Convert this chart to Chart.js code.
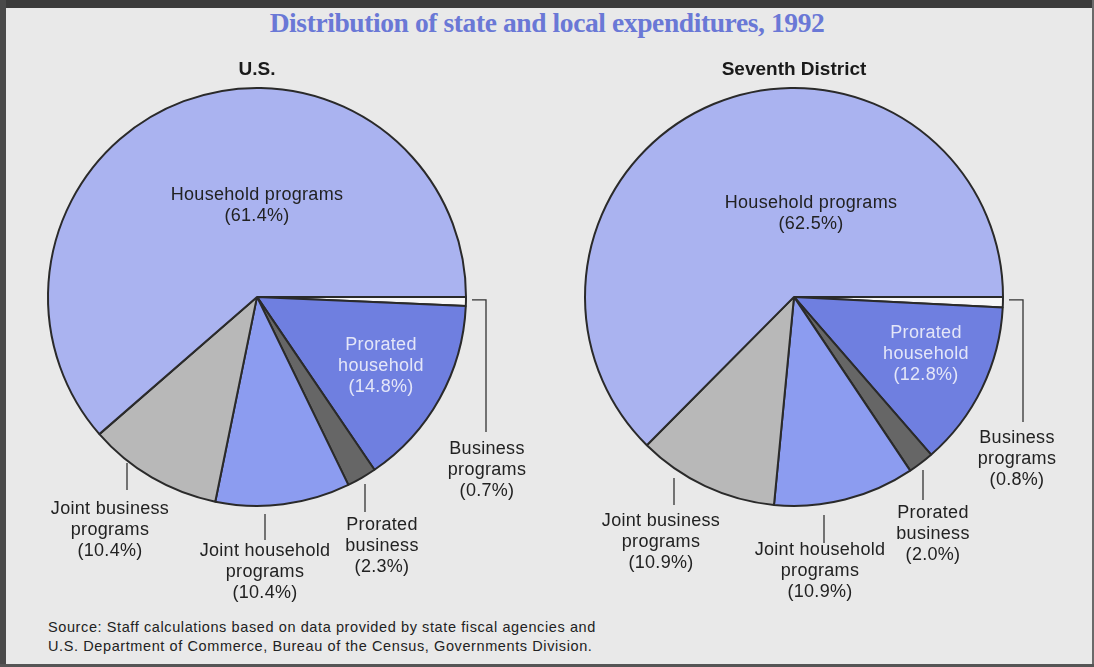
<!DOCTYPE html>
<html>
<head>
<meta charset="utf-8">
<script src="https://cdn.jsdelivr.net/npm/chart.js@4/dist/chart.umd.min.js"></script>
<style>
  html, body { margin: 0; padding: 0; }
  body { width: 1094px; height: 667px; position: relative; overflow: hidden; background: #e9e9e9; font-family: "Liberation Sans", Arial, sans-serif; }
  #topbar { position: absolute; left: 0; top: 0; width: 1094px; height: 8px; background: #3b3b3b; }
  #leftbar { position: absolute; left: 0; top: 0; width: 6px; height: 667px; background: #4a4a4a; }
  #rightbar { position: absolute; right: 0; top: 0; width: 2px; height: 667px; background: #6a6a6a; }
  #bottombar { position: absolute; left: 0; bottom: 0; width: 1094px; height: 3px; background: #555; }
  #title { position: absolute; left: 0; width: 1094px; top: 7px; text-align: center; font-family: "Liberation Serif", "DejaVu Serif", serif; font-weight: bold; font-size: 27.5px; color: #6a78d6; letter-spacing: -0.4px; }
  #source { position: absolute; left: 48px; top: 618px; font-size: 14.5px; line-height: 19px; color: #222; letter-spacing: 0.6px; }
  canvas { position: absolute; top: 0; }
  #c1 { left: 0; }
  #c2 { left: 547px; }
</style>
</head>
<body>
<div id="topbar"></div><div id="leftbar"></div><div id="rightbar"></div><div id="bottombar"></div>
<div id="title">Distribution of state and local expenditures, 1992</div>
<div id="source">Source: Staff calculations based on data provided by state fiscal agencies and<br>U.S. Department of Commerce, Bureau of the Census, Governments Division.</div>
<canvas id="c1" width="547" height="667"></canvas>
<canvas id="c2" width="547" height="667"></canvas>
<script>
// Data (slices ordered clockwise from 3 o'clock)
const categories = ["Business programs", "Prorated household", "Prorated business", "Joint household programs", "Joint business programs", "Household programs"];
const usValues = [0.7, 14.8, 2.3, 10.4, 10.4, 61.4];
const districtValues = [0.8, 12.8, 2.0, 10.9, 10.9, 62.5];
const panelTitles = ["U.S.", "Seventh District"];

const sliceColors = ["#f7f7f7", "#6f7fe0", "#666666", "#8c9cf0", "#b8b8b8", "#aab3f0"];

function pct(v) { return "(" + v.toFixed(1) + "%)"; }

function makeLabels(values, layout) {
  return [
    { lines: ["Business", "programs", pct(values[0])], ...layout.business },
    { lines: ["Prorated", "household", pct(values[1])], ...layout.proHouse, color: "#e4e6f8" },
    { lines: ["Prorated", "business", pct(values[2])], ...layout.proBus },
    { lines: ["Joint household", "programs", pct(values[3])], ...layout.jointHouse },
    { lines: ["Joint business", "programs", pct(values[4])], ...layout.jointBus },
    { lines: ["Household programs", pct(values[5])], ...layout.household }
  ];
}

const usLayout = {
  business:   { x: 230, y: 152, lead: [[215, 3], [229, 3], [229, 135]] },
  proHouse:   { x: 124, y: 48 },
  proBus:     { x: 125, y: 228, lead: [[108, 187], [108, 215]] },
  jointHouse: { x: 8,   y: 254, lead: [[8, 217], [8, 243]] },
  jointBus:   { x: -147, y: 212, lead: [[-130, 166], [-130, 193]] },
  household:  { x: 0,   y: -102 }
};
const dLayout = {
  business:   { x: 223, y: 141, lead: [[215, 3], [229, 3], [229, 125]] },
  proHouse:   { x: 132, y: 36 },
  proBus:     { x: 139, y: 216, lead: [[129, 173], [129, 203]] },
  jointHouse: { x: 26,  y: 253, lead: [[30, 218], [30, 246]] },
  jointBus:   { x: -133, y: 224, lead: [[-120, 181], [-120, 208]] },
  household:  { x: 17,  y: -94 }
};

const labelPlugin = {
  id: "pieLabels",
  afterDraw(chart) {
    const arc = chart.getDatasetMeta(0).data[0];
    const cx = arc.x, cy = arc.y;
    const ctx = chart.ctx;
    const labels = chart.options.plugins.pieLabels.labels;
    ctx.save();
    ctx.font = "18px 'Liberation Sans', Arial, sans-serif";
    try { ctx.letterSpacing = "0.3px"; } catch (e) {}
    ctx.textAlign = "center";
    ctx.textBaseline = "middle";
    labels.forEach(l => {
      if (l.lead) {
        ctx.beginPath();
        ctx.strokeStyle = "#333";
        ctx.lineWidth = 1.3;
        l.lead.forEach((p, i) => {
          if (i === 0) ctx.moveTo(cx + p[0], cy + p[1]); else ctx.lineTo(cx + p[0], cy + p[1]);
        });
        ctx.stroke();
      }
      ctx.fillStyle = l.color || "#222";
      l.lines.forEach((t, i) => {
        ctx.fillText(t, cx + l.x, cy + l.y + i * 21);
      });
    });
    ctx.restore();
  }
};

function makeChart(id, values, title, labels, pad) {
  return new Chart(document.getElementById(id), {
    type: "pie",
    data: {
      labels: categories,
      datasets: [{
        data: values,
        backgroundColor: sliceColors,
        borderColor: "#2a2a2a",
        borderWidth: 2
      }]
    },
    options: {
      responsive: false,
      animation: false,
      rotation: 90,
      layout: { padding: pad },
      plugins: {
        legend: { display: false },
        tooltip: { enabled: false },
        title: {
          display: true,
          text: title,
          color: "#1a1a1a",
          font: { family: "'Liberation Sans', Arial, sans-serif", size: 19, weight: "bold" },
          padding: { top: 0, bottom: 0 }
        },
        pieLabels: { labels: labels }
      }
    },
    plugins: [labelPlugin]
  });
}

makeChart("c1", usValues, panelTitles[0], makeLabels(usValues, usLayout), { left: 47, right: 80, top: 58, bottom: 154 });
makeChart("c2", districtValues, panelTitles[1], makeLabels(districtValues, dLayout), { left: 37, right: 90, top: 58, bottom: 154 });
</script>
</body>
</html>
